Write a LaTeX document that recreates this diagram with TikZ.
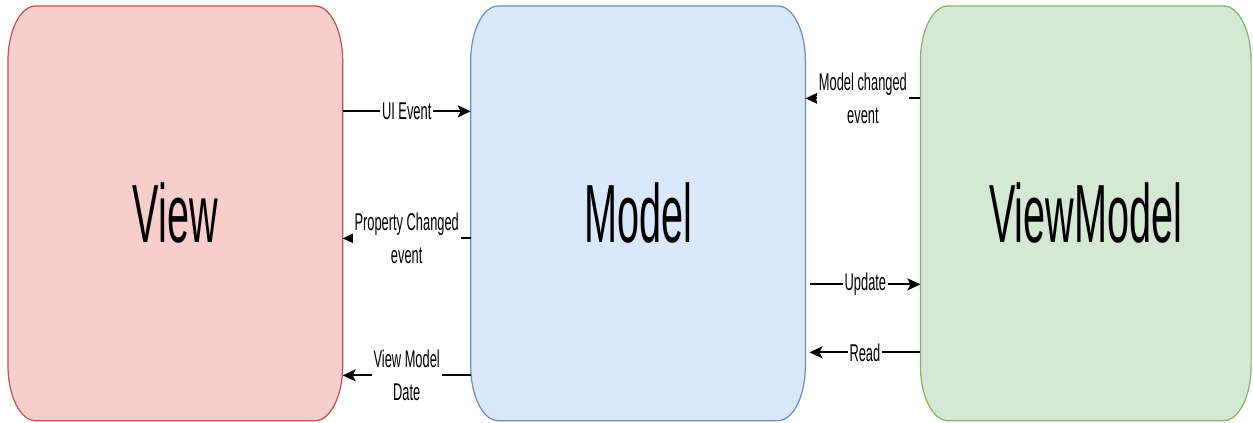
\documentclass[tikz,border=0pt]{standalone}
\usepackage{fontspec}
\setmainfont{Liberation Sans}[FakeStretch=0.48]
\newfontfamily\msgfont{Liberation Sans}[FakeStretch=0.53]
\usepackage{xcolor}
\usetikzlibrary{arrows.meta, positioning, backgrounds}

\definecolor{viewfill}{HTML}{F8CECC}
\definecolor{viewline}{HTML}{B85450}
\definecolor{modelfill}{HTML}{DAE8FC}
\definecolor{modelline}{HTML}{6C8EBF}
\definecolor{vmfill}{HTML}{D5E8D4}
\definecolor{vmline}{HTML}{82B366}

% box outline with oval corners
\newcommand{\panelbox}[3]{%
  \filldraw[fill=#2, draw=#3, line width=0.7pt]
    ([xshift=0.55cm]#1.north west) -- ([xshift=-0.55cm]#1.north east)
    arc[start angle=90, end angle=0, x radius=0.55cm, y radius=1.1cm]
    -- ([yshift=1.1cm]#1.south east)
    arc[start angle=0, end angle=-90, x radius=0.55cm, y radius=1.1cm]
    -- ([xshift=0.55cm]#1.south west)
    arc[start angle=270, end angle=180, x radius=0.55cm, y radius=1.1cm]
    -- ([yshift=-1.1cm]#1.north west)
    arc[start angle=180, end angle=90, x radius=0.55cm, y radius=1.1cm]
    -- cycle;}

\begin{document}
\begin{tikzpicture}[
    node distance=2.56cm,
    box/.style={rectangle, minimum width=6.68cm, minimum height=8.28cm, inner sep=0pt, font=\fontsize{47}{50}\selectfont},
    arrow/.style={-{Stealth[length=0.26cm, width=0.24cm, inset=0.06cm]}, line width=1.1pt},
    msg/.style={fill=white, inner sep=1pt, align=center, font=\msgfont\fontsize{13.8}{18.5}\selectfont}
]
\useasboundingbox (0,0) rectangle (25.06,-8.46);

% Boxes
\node[box, anchor=north west] (view) at (0.16,-0.12) {View};
\node[box, right=of view] (model) {Model};
\node[box, right=2.3cm of model, minimum width=6.6cm] (vm) {ViewModel};

\begin{scope}[on background layer]
\panelbox{view}{viewfill}{viewline}
\panelbox{model}{modelfill}{modelline}
\panelbox{vm}{vmfill}{vmline}
\end{scope}

% Arrows - View / Model
\draw[arrow] ([yshift=2.04cm]view.east) -- node[msg] {UI Event} ([yshift=2.04cm]model.west);
\draw[arrow] ([yshift=-0.5cm]model.west) -- node[msg] {Property Changed\\event} ([yshift=-0.5cm]view.east);
\draw[arrow] ([yshift=-3.24cm]model.west) -- node[msg] {View Model\\Date} ([yshift=-3.24cm]view.east);

% Arrows - Model / ViewModel
\draw[arrow] ([yshift=2.3cm]vm.west) -- node[msg] {Model changed\\event} ([yshift=2.3cm]model.east);
\draw[arrow] ([xshift=0.1cm, yshift=-1.42cm]model.east) -- node[msg] {Update} ([yshift=-1.42cm]vm.west);
\draw[arrow] ([yshift=-2.78cm]vm.west) -- node[msg] {Read} ([xshift=0.08cm, yshift=-2.78cm]model.east);

\end{tikzpicture}
\end{document}
